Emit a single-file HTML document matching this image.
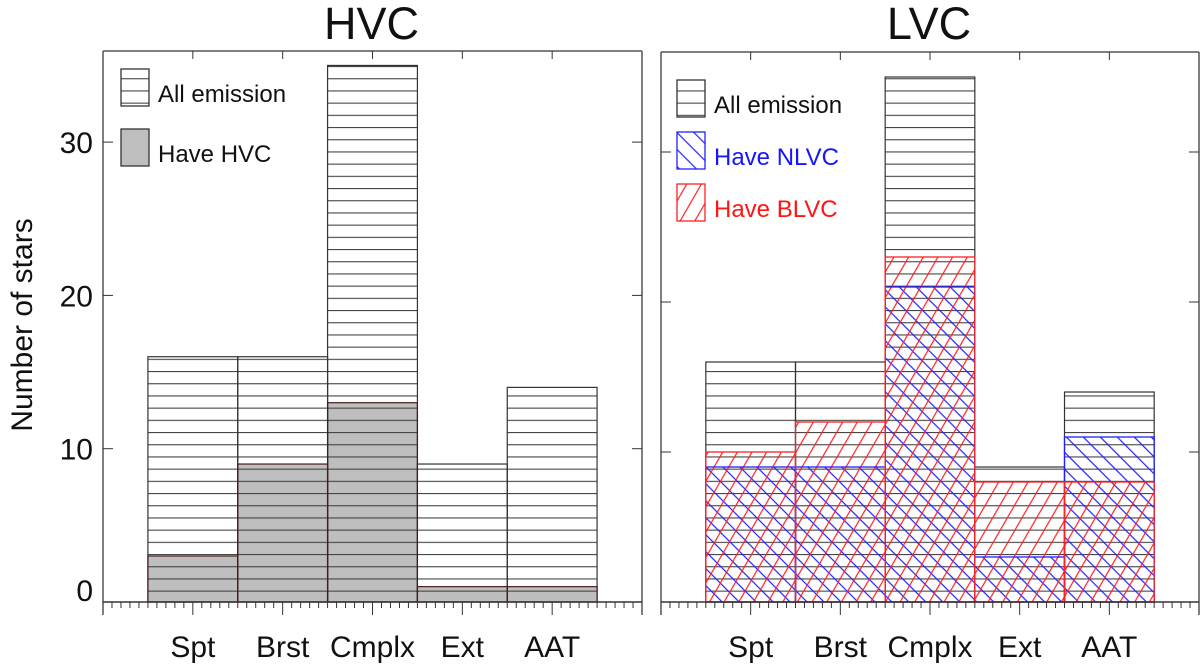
<!DOCTYPE html>
<html><head><meta charset="utf-8"><style>
html,body{margin:0;padding:0;background:#fff;}
svg{display:block;font-family:"Liberation Sans",sans-serif;}
</style></head><body>
<svg id="chart" width="1200" height="668" viewBox="0 0 1200 668" xmlns="http://www.w3.org/2000/svg">
<defs>
<pattern id="hz" patternUnits="userSpaceOnUse" width="20" height="12.2" y="5">
<line x1="0" y1="0.6" x2="20" y2="0.6" stroke="#444" stroke-width="1.1"/></pattern>
<pattern id="red" patternUnits="userSpaceOnUse" width="12.7" height="40" patternTransform="rotate(30)">
<line x1="1" y1="0" x2="1" y2="40" stroke="#ff2020" stroke-width="1.2"/></pattern>
<pattern id="blue" patternUnits="userSpaceOnUse" width="12" height="40" patternTransform="rotate(-45)">
<line x1="1" y1="0" x2="1" y2="40" stroke="#2020ff" stroke-width="1.2"/></pattern>
</defs>
<g id="g"></g>
</svg>
<script>
const categories=["Spt","Brst","Cmplx","Ext","AAT"];
const hvcAll=[16,16,35,9,14];
const hvcHave=[3,9,13,1,1];
const lvcAll=[16,16,35,9,14];
const lvcNL=[9,9,21,3,11];
const lvcBL=[10,12,23,8,8];
const yTicks=[0,10,20,30];

const NS="http://www.w3.org/2000/svg";
const G=document.getElementById('g');
function el(t,a,p){const e=document.createElementNS(NS,t);for(const k in a)e.setAttribute(k,a[k]);(p||G).appendChild(e);return e;}

function panel(P){
  const X=v=>P.x0+v*P.w/6, Y=v=>P.y0-v*P.k;
  const g=el('g',{});
  
  
  const bw=P.w/6;
  P.all.forEach((v,i)=>{
    const r=el('rect',{x:X(i+0.5),y:Y(v),width:bw,height:Y(0)-Y(v),fill:'#fff'},g);
    
    
  });
  if(P.have){
    P.have.forEach((v,i)=>{
      const r=el('rect',{x:X(i+0.5),y:Y(v),width:bw,height:Y(0)-Y(v),fill:'#bebebe'},g);
      
      
    });
  }
  P.all.forEach((v,i)=>{
    el('rect',{x:X(i+0.5),y:Y(v),width:bw,height:Y(0)-Y(v),fill:'url(#hz)'},g);
  });
  if(P.nl){
    P.nl.forEach((v,i)=>{
      const r=el('rect',{x:X(i+0.5),y:Y(v),width:bw,height:Y(0)-Y(v),fill:'url(#blue)'},g);
      
      
    });
    P.bl.forEach((v,i)=>{
      const r=el('rect',{x:X(i+0.5),y:Y(v),width:bw,height:Y(0)-Y(v),fill:'url(#red)'},g);
      
      
    });
  }
  P.all.forEach((v,i)=>{
    el('rect',{x:X(i+0.5),y:Y(v),width:bw,height:Y(0)-Y(v),fill:'none',stroke:'#333','stroke-width':1.2},g);
  });
  if(P.have) P.have.forEach((v,i)=>{
    el('rect',{x:X(i+0.5),y:Y(v),width:bw,height:Y(0)-Y(v),fill:'none',stroke:'#4a1a1a','stroke-width':1.2},g);
  });
  if(P.nl){
    P.nl.forEach((v,i)=>el('rect',{x:X(i+0.5),y:Y(v),width:bw,height:Y(0)-Y(v),fill:'none',stroke:'#2020ff','stroke-width':1.3},g));
    P.bl.forEach((v,i)=>el('rect',{x:X(i+0.5),y:Y(v),width:bw,height:Y(0)-Y(v),fill:'none',stroke:'#ff2020','stroke-width':1.3},g));
  }
  const ax='#555';
  el('line',{x1:P.x0,y1:P.top,x2:P.x0+P.w,y2:P.top,stroke:ax,'stroke-width':1.5},g);
  el('line',{x1:P.x0,y1:P.top,x2:P.x0,y2:Y(0)+13,stroke:ax,'stroke-width':1.5},g);
  el('line',{x1:P.x0+P.w,y1:P.top,x2:P.x0+P.w,y2:Y(0)+13,stroke:ax,'stroke-width':1.5},g);
  el('line',{x1:P.x0,y1:Y(0),x2:P.x0+P.w,y2:Y(0),stroke:'#333','stroke-width':1.5},g);
  for(let m=1;m<60;m++){
    const xv=X(m/10), major=(m%10===0);
    el('line',{x1:xv,y1:Y(0),x2:xv,y2:Y(0)+(major?13:6),stroke:'#333','stroke-width':1},g);
    if(major) el('line',{x1:xv,y1:P.top,x2:xv,y2:P.top+8,stroke:'#333','stroke-width':1},g);
  }
  categories.forEach((c,i)=>{
    const t=el('text',{x:X(i+1),y:657,'font-size':30,'text-anchor':'middle',fill:'#111'},g);
    t.textContent=c;
    
    
  });
  yTicks.forEach(v=>{
    if(v>0){
      el('line',{x1:P.x0,y1:Y(v),x2:P.x0+10,y2:Y(v),stroke:'#333','stroke-width':1},g);
      el('line',{x1:P.x0+P.w,y1:Y(v),x2:P.x0+P.w-10,y2:Y(v),stroke:'#333','stroke-width':1},g);
    }
    if(P.labels){
      const t=el('text',{x:93,y:Y(v)+(v===0?-1:11),'font-size':30,'text-anchor':'end',fill:'#111'},g);
      t.textContent=v;
      
      
    }
  });
  const tt=el('text',{x:P.x0+P.w*0.5-1,y:39,'font-size':45,'text-anchor':'middle',fill:'#111'},g);
  tt.textContent=P.title;
  
  
}
panel({name:'hvc-panel',x0:103,w:539,y0:602,k:15.33,top:51,all:hvcAll,have:hvcHave,labels:true,title:'HVC'});
panel({name:'lvc-panel',x0:661,w:538,y0:602,k:15,top:52,all:lvcAll,nl:lvcNL,bl:lvcBL,labels:false,title:'LVC'});

const yl=el('text',{x:0,y:0,'font-size':30,'text-anchor':'middle',fill:'#111',transform:'translate(32,325) rotate(-90)'});
yl.textContent='Number of stars';



function legend(x,y,fill,stroke,label,color,name){
  const g=el('g',{});
  
  
  if(fill==='gray'){el('rect',{x:x,y:y,width:28,height:37,fill:'#bebebe',stroke:'#333','stroke-width':1.3},g);}
  else{el('rect',{x:x,y:y,width:28,height:37,fill:'#fff'},g);
       el('rect',{x:x,y:y,width:28,height:37,fill:fill,stroke:stroke,'stroke-width':1.3},g);}
  const t=el('text',{x:x+37,y:y+33,'font-size':24,fill:color},g);
  t.textContent=label;
}
legend(121,69,'url(#hz)','#333','All emission','#111','legend-all-emission');
legend(121,129,'gray','#333','Have HVC','#111','legend-have-hvc');
legend(677,80,'url(#hz)','#333','All emission','#111','legend-all-emission-lvc');
legend(677,132,'url(#blue)','#2020ff','Have NLVC','#1515ff','legend-have-nlvc');
legend(677,184,'url(#red)','#ff2020','Have BLVC','#ff1515','legend-have-blvc');
</script>
</body></html>
